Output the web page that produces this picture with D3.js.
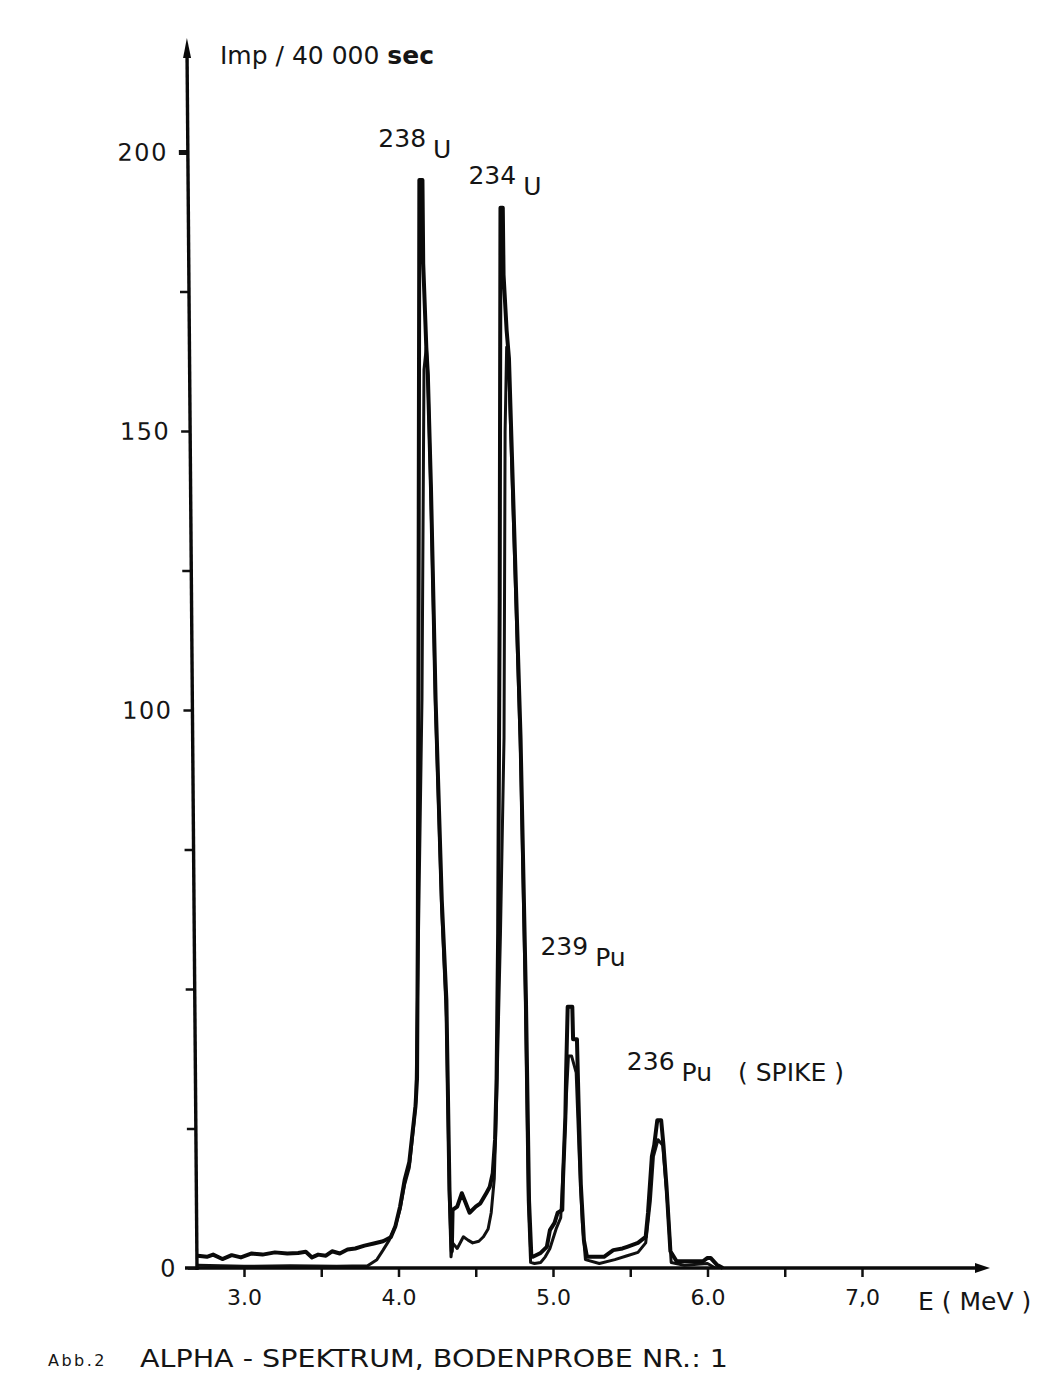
<!DOCTYPE html>
<html>
<head>
<meta charset="utf-8">
<script src="https://cdn.jsdelivr.net/npm/d3@7"></script>
<style>
  html, body { margin: 0; padding: 0; background: #fff; }
  svg { display: block; }
  text { font-family: "DejaVu Sans", "Liberation Sans", sans-serif; fill: #151515; }
</style>
</head>
<body>
<svg id="chart" width="1062" height="1398"></svg>
<script>
// ---------- data ----------
const xTickValues = [3.0, 3.5, 4.0, 4.5, 5.0, 5.5, 6.0, 6.5, 7.0];
const xTickLabels = {3: "3.0", 4: "4.0", 5: "5.0", 6: "6.0", 7: "7,0"};
const yTickValues = [0, 25, 50, 75, 100, 125, 150, 175, 200];
const yTickLabels = {0: "0", 100: "100", 150: "150", 200: "200"};

// outer (upper) trace: [energy MeV, impulses]
const spectrumA = [
  [2.70, 2.2], [2.76, 2.0], [2.80, 2.4], [2.86, 1.6], [2.92, 2.3], [2.98, 1.9],
  [3.05, 2.6], [3.12, 2.4], [3.20, 2.8], [3.28, 2.6], [3.35, 2.7], [3.40, 2.9],
  [3.44, 1.9], [3.48, 2.4], [3.53, 2.2], [3.57, 3.0], [3.62, 2.6], [3.67, 3.3],
  [3.72, 3.5], [3.78, 4.0], [3.84, 4.4], [3.90, 4.8], [3.95, 5.5], [3.98, 7.5],
  [4.01, 11], [4.04, 15.8], [4.07, 19], [4.09, 24], [4.11, 29], [4.12, 34],
  [4.125, 60], [4.13, 120], [4.135, 195], [4.155, 195], [4.16, 180], [4.18, 165],
  [4.19, 160], [4.21, 140], [4.24, 102], [4.28, 66], [4.31, 48], [4.33, 14],
  [4.345, 3], [4.35, 10.4], [4.38, 11], [4.41, 13.4], [4.43, 12], [4.46, 9.9],
  [4.50, 11], [4.53, 11.6], [4.57, 13.5], [4.59, 14.5], [4.61, 17], [4.625, 23],
  [4.635, 34], [4.645, 60], [4.655, 120], [4.66, 190], [4.675, 190], [4.68, 178],
  [4.70, 168], [4.715, 163], [4.79, 95], [4.825, 48], [4.845, 12], [4.86, 2],
  [4.87, 2], [4.92, 2.7], [4.96, 3.8], [4.98, 6.8], [5.01, 8.1], [5.03, 9.9],
  [5.06, 10.4], [5.065, 16], [5.08, 27], [5.085, 35], [5.095, 46.8], [5.125, 46.8],
  [5.13, 41], [5.155, 41], [5.165, 30], [5.18, 15], [5.20, 5], [5.22, 2],
  [5.33, 2], [5.39, 3.2], [5.45, 3.5], [5.48, 3.8], [5.55, 4.5], [5.60, 5.6],
  [5.615, 9.9], [5.64, 20], [5.655, 22], [5.675, 26.5], [5.70, 26.5], [5.715, 22],
  [5.735, 14.5], [5.76, 3], [5.80, 1.2], [5.97, 1.2], [6.00, 1.8], [6.02, 1.8],
  [6.06, 0.6], [6.10, 0]
];

// inner (lower) trace: [energy MeV, impulses]
const spectrumB = [
  [2.70, 0.5], [3.00, 0.3], [3.30, 0.4], [3.60, 0.3], [3.80, 0.4], [3.86, 1.5],
  [3.90, 3.2], [3.94, 5], [3.98, 7.5], [4.01, 10.5], [4.04, 15], [4.07, 18],
  [4.10, 26], [4.113, 30], [4.152, 102], [4.165, 161], [4.18, 165], [4.19, 160],
  [4.21, 138], [4.24, 100], [4.28, 64], [4.31, 45], [4.33, 12], [4.34, 2],
  [4.35, 4.5], [4.38, 3.5], [4.42, 5.6], [4.45, 5], [4.48, 4.5], [4.52, 4.8],
  [4.55, 5.6], [4.58, 7], [4.60, 9.9], [4.62, 16], [4.635, 30], [4.66, 60],
  [4.683, 95], [4.69, 150], [4.70, 165], [4.715, 160], [4.79, 92], [4.82, 50],
  [4.84, 12], [4.855, 1], [4.88, 0.8], [4.92, 1.0], [4.95, 2.0], [4.98, 3.5],
  [5.02, 7], [5.05, 9], [5.07, 20], [5.085, 30], [5.10, 38], [5.12, 38],
  [5.15, 35], [5.17, 20], [5.19, 8], [5.21, 1.5], [5.30, 0.8], [5.40, 1.5],
  [5.48, 2.2], [5.55, 2.8], [5.60, 4.5], [5.63, 12], [5.65, 20], [5.68, 23],
  [5.71, 22], [5.74, 12], [5.765, 1], [5.85, 0.5], [6.00, 0.8], [6.05, 0]
];

const peakLabels = [
  {mass: "238", elem: "U", note: ""},
  {mass: "234", elem: "U", note: ""},
  {mass: "239", elem: "Pu", note: ""},
  {mass: "236", elem: "Pu", note: "( SPIKE )"}
];

const yTitle = ["Imp / 40 000 ", "sec"];
const xTitle = "E ( MeV )";
const captionSmall = "Abb.2";
const captionMain = "ALPHA - SPEKTRUM, BODENPROBE  NR.: 1";

// ---------- layout ----------
const svg = d3.select("#chart");
const x0 = 197, y0 = 1268;
const x = d3.scaleLinear().domain([3, 7]).range([244, 862]);
const y = d3.scaleLinear().domain([0, 200]).range([y0, 152]);

// traces
const line = d3.line().x(d => x(d[0])).y(d => y(d[1]));
svg.append("path").datum(spectrumB).attr("d", line)
  .attr("fill", "none").attr("stroke", "#111").attr("stroke-width", 3)
  .attr("stroke-linejoin", "round");
svg.append("path").datum(spectrumA).attr("d", line)
  .attr("fill", "none").attr("stroke", "#0a0a0a").attr("stroke-width", 4)
  .attr("stroke-linejoin", "round");

// x axis
const xAxis = d3.axisBottom(x).tickValues(xTickValues).tickSize(9).tickPadding(12)
  .tickFormat(d => xTickLabels[d] || "");
const gx = svg.append("g").attr("transform", `translate(0,${y0})`).call(xAxis);
gx.select(".domain").remove();
gx.selectAll(".tick line").attr("stroke", "#111").attr("stroke-width", 2.5);
gx.selectAll(".tick text").attr("font-size", 22).attr("fill", "#151515")
  .style("font-family", "'DejaVu Sans', sans-serif");
svg.append("line").attr("x1", x0 - 12).attr("x2", 975).attr("y1", y0).attr("y2", y0)
  .attr("stroke", "#0a0a0a").attr("stroke-width", 3.4);
svg.append("path").attr("d", `M${975},${y0 - 5} L${990},${y0} L${975},${y0 + 5} Z`)
  .attr("fill", "#0a0a0a");
svg.append("text").attr("x", 918).attr("y", y0 + 42).attr("font-size", 25)
  .text(xTitle);

// y axis (slightly slanted like the scan)
const gyWrap = svg.append("g").attr("transform", `rotate(-0.47, ${x0}, ${y0})`);
const yAxis = d3.axisLeft(y).tickValues(yTickValues).tickSize(9).tickPadding(11)
  .tickFormat(d => yTickLabels[d] || "");
const gy = gyWrap.append("g").attr("transform", `translate(${x0},0)`).call(yAxis);
gy.select(".domain").remove();
gy.selectAll(".tick line").attr("stroke", "#111").attr("stroke-width", d => d === 200 ? 5 : 2.5);
gy.selectAll(".tick text").attr("font-size", 24).attr("letter-spacing", 1.5)
  .attr("fill", "#151515").style("font-family", "'DejaVu Sans', sans-serif");
gyWrap.append("line").attr("x1", x0).attr("x2", x0).attr("y1", y0 + 2).attr("y2", 52)
  .attr("stroke", "#0a0a0a").attr("stroke-width", 3.4);
gyWrap.append("path").attr("d", `M${x0 - 4},${58} L${x0},${38} L${x0 + 4},${58} Z`)
  .attr("fill", "#0a0a0a");

// y title
const t = svg.append("text").attr("x", 220).attr("y", 64).attr("font-size", 25);
t.append("tspan").text(yTitle[0]);
t.append("tspan").attr("font-weight", "bold").text(yTitle[1]);

// peak labels (positioned relative to peak data)
const labelPos = [
  {ex: 4.135, v: 195, dx: -41, dy: -33},
  {ex: 4.66, v: 190, dx: -32, dy: -24},
  {ex: 5.10, v: 46.8, dx: -28, dy: -52},
  {ex: 5.685, v: 26.5, dx: -32, dy: -50}
];
peakLabels.forEach((p, i) => {
  const lp = labelPos[i];
  const tx = x(lp.ex) + lp.dx, ty = y(lp.v) + lp.dy;
  const g = svg.append("text").attr("x", tx).attr("y", ty).attr("font-size", 25);
  g.append("tspan").text(p.mass);
  g.append("tspan").attr("dx", 7).attr("dy", 11).text(p.elem);
  if (p.note) g.append("tspan").attr("dx", 26).text(p.note);
});

// caption
svg.append("text").attr("x", 48).attr("y", 1366).attr("font-size", 16)
  .attr("letter-spacing", 2.5).text(captionSmall);
svg.append("text").attr("x", 140).attr("y", 1367).attr("font-size", 25)
  .attr("textLength", 588).attr("lengthAdjust", "spacingAndGlyphs")
  .text(captionMain);
</script>
</body>
</html>
